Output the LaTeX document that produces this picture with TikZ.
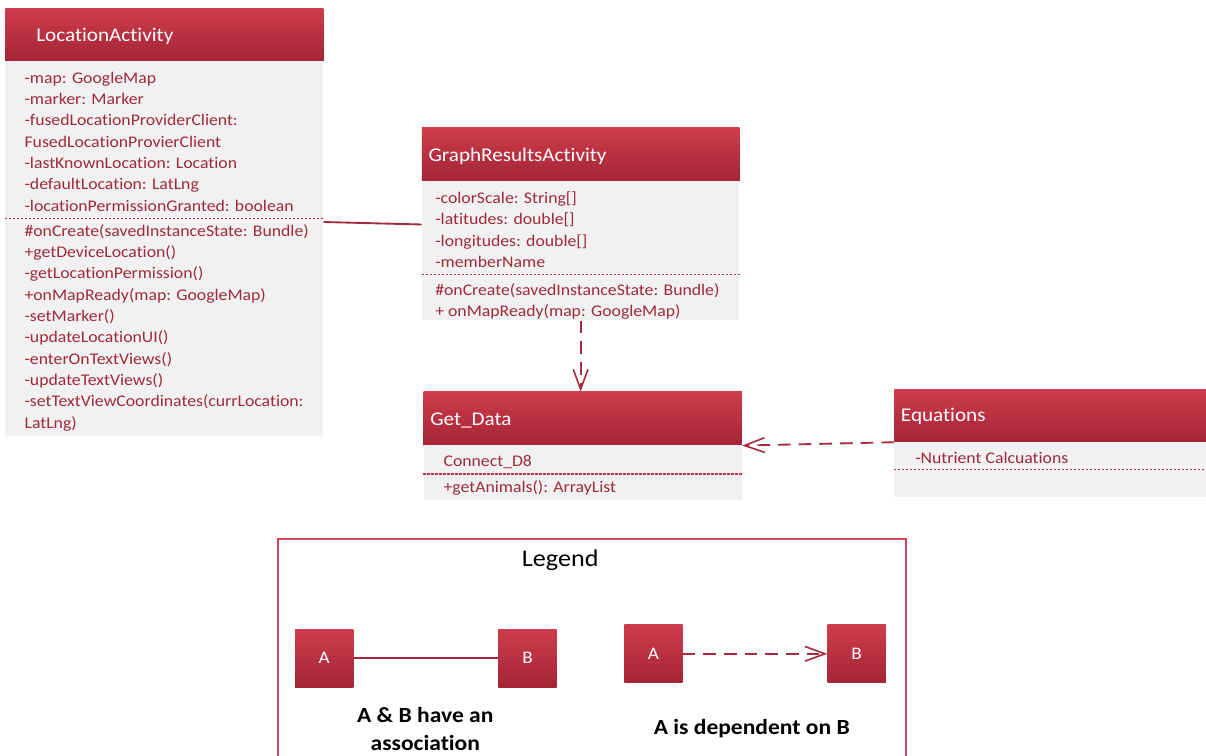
\documentclass[tikz,border=0pt]{standalone}
\usepackage{fontspec}
\setmainfont{Carlito}[FakeStretch=1.09, Ligatures=NoCommon]
\usetikzlibrary{arrows.meta}

\definecolor{hdrtop}{RGB}{206,60,77}
\definecolor{hdrbot}{RGB}{163,37,54}
\definecolor{bodyfill}{RGB}{241,241,241}
\definecolor{umltext}{RGB}{158,42,60}
\definecolor{sepred}{RGB}{200,48,62}
\definecolor{linkred}{RGB}{165,42,60}
\definecolor{legendframe}{RGB}{208,72,88}

\tikzset{
  hdr/.style={rectangle, inner sep=0pt, anchor=north west,
    top color=hdrtop, bottom color=hdrbot, draw=none},
  classbody/.style={rectangle, inner sep=0pt, anchor=north west,
    fill=bodyfill, draw=none},
  title/.style={anchor=base west, inner sep=0pt, text=white,
    font=\fontsize{14.55}{17}\selectfont},
  member/.style={anchor=base west, inner sep=0pt, text=umltext,
    font=\fontsize{12.2}{15}\selectfont},
  sepline/.style={draw=sepred, line width=0.8pt, dash pattern=on 1.8pt off 1.2pt},
  assoc/.style={draw=linkred, line width=1.4pt},
  depend/.style={draw=linkred, line width=1.4pt, dash pattern=on 9.5pt off 6pt,
    -{Straight Barb[length=15pt,width=11pt,line width=1.2pt]}},
  legsquare/.style={rectangle, inner sep=0pt, top color=hdrtop, bottom color=hdrbot,
    minimum width=43.7pt, minimum height=43.7pt, text=white,
    font=\fontsize{13.2}{15}\selectfont},
  legnote/.style={inner sep=0pt, text=black, anchor=base,
    font=\fontsize{16.2}{20.5}\selectfont\bfseries},
}

\begin{document}
\begin{tikzpicture}[x=0.75pt, y=-0.75pt]
\useasboundingbox (0,0) rectangle (1206,756);

% ---- LocationActivity ----
\node[hdr, minimum width=238.5pt, minimum height=39.5pt] (la-hdr) at (5,8.3) {};
\node[classbody, minimum width=238.5pt, minimum height=281pt] (la-body) at (5,61) {};
\node[title] (la-title) at (36,41.7) {LocationActivity};
\foreach \t [count=\i from 0] in {{-map: GoogleMap},{-marker: Marker},
    {-fusedLocationProviderClient:},{FusedLocationProvierClient},
    {-lastKnownLocation: Location},{-defaultLocation: LatLng},
    {-locationPermissionGranted: boolean}}
  \node[member] (la-a\i) at (24.3,{83.3+21.3*\i}) {\t};
\draw[sepline] (la-body.west |- 0,218.3) -- (la-body.east |- 0,218.3);
\foreach \t [count=\i from 0] in {{\#onCreate(savedInstanceState: Bundle)},
    {+getDeviceLocation()},{-getLocationPermission()},
    {+onMapReady(map: GoogleMap)},{-setMarker()},{-updateLocationUI()},
    {-enterOnTextViews()},{-updateTextViews()},
    {-setTextViewCoordinates(currLocation:},{LatLng)}}
  \node[member] (la-m\i) at (24.3,{236+21.37*\i}) {\t};

% ---- GraphResultsActivity ----
\node[hdr, minimum width=238pt, minimum height=40.3pt] (gra-hdr) at (421.7,127.3) {};
\node[classbody, minimum width=238pt, minimum height=104.3pt] (gra-body) at (421.7,181) {};
\node[title] (gra-title) at (428.3,161.7) {GraphResultsActivity};
\foreach \t [count=\i from 0] in {{-colorScale: String[]},{-latitudes: double[]},
    {-longitudes: double[]},{-memberName}}
  \node[member] (gra-a\i) at (435,{203.5+21.3*\i}) {\t};
\draw[sepline] (gra-body.west |- 0,274.3) -- (gra-body.east |- 0,274.3);
\foreach \t [count=\i from 0] in {{\#onCreate(savedInstanceState: Bundle)},
    {+ onMapReady(map: GoogleMap)}}
  \node[member] (gra-m\i) at (435,{295.5+21.1*\i}) {\t};

% ---- Get_Data ----
\node[hdr, minimum width=238.8pt, minimum height=40pt] (gd-hdr) at (423.3,391.7) {};
\node[classbody, minimum width=238.8pt, minimum height=41.3pt] (gd-body) at (423.3,445) {};
\node[title] (gd-title) at (430,425) {Get\_Data};
\node[member] (gd-a0) at (443.3,466.7) {Connect\_D8};
\draw[sepline] (gd-body.west |- 0,474) -- (gd-body.east |- 0,474);
\node[member] (gd-m0) at (443.3,492.7) {+getAnimals(): ArrayList};

% ---- Equations ----
\node[hdr, minimum width=234pt, minimum height=39.3pt] (eq-hdr) at (894,389.3) {};
\node[classbody, minimum width=234pt, minimum height=41.3pt] (eq-body) at (894,441.7) {};
\node[title] (eq-title) at (900.7,421.7) {Equations};
\node[member] (eq-a0) at (915,463.3) {-Nutrient Calcuations};
\draw[sepline] (eq-body.west |- 0,469.5) -- (eq-body.east |- 0,469.5);

% ---- relations ----
\draw[assoc] (la-body.east |- 0,222) -- (gra-body.west |- 0,224.5);
\draw[depend] (gra-body.south) -- (gra-body.south |- gd-hdr.north);
\draw[depend] (eq-hdr.south west) -- (gd-hdr.south east);

% ---- legend ----
\node[draw=legendframe, line width=1.6pt, rectangle, inner sep=0pt, anchor=north west,
  minimum width=470.6pt, minimum height=163.4pt] (legend) at (277.3,538.3) {};
\node[anchor=base west, inner sep=0pt, font=\fontsize{18}{21}\selectfont] (legend-title)
  at (521.7,566) {Legend};
\node[legsquare] (la1) at (324.2,658.2) {A};
\node[legsquare] (lb1) at (527.5,658.2) {B};
\draw[assoc] (la1.east) -- (lb1.west);
\node[legsquare] (la2) at (653.4,653.8) {A};
\node[legsquare] (lb2) at (856.7,653.8) {B};
\draw[depend] (la2.east) -- (lb2.west);
\node[legnote] (assoc-note1) at (425.3,722.7) {A \& B have an};
\node[legnote] (assoc-note2) at (425.3,750) {association};
\node[legnote] (dep-note) at (751.7,734) {A is dependent on B};
\end{tikzpicture}
\end{document}
